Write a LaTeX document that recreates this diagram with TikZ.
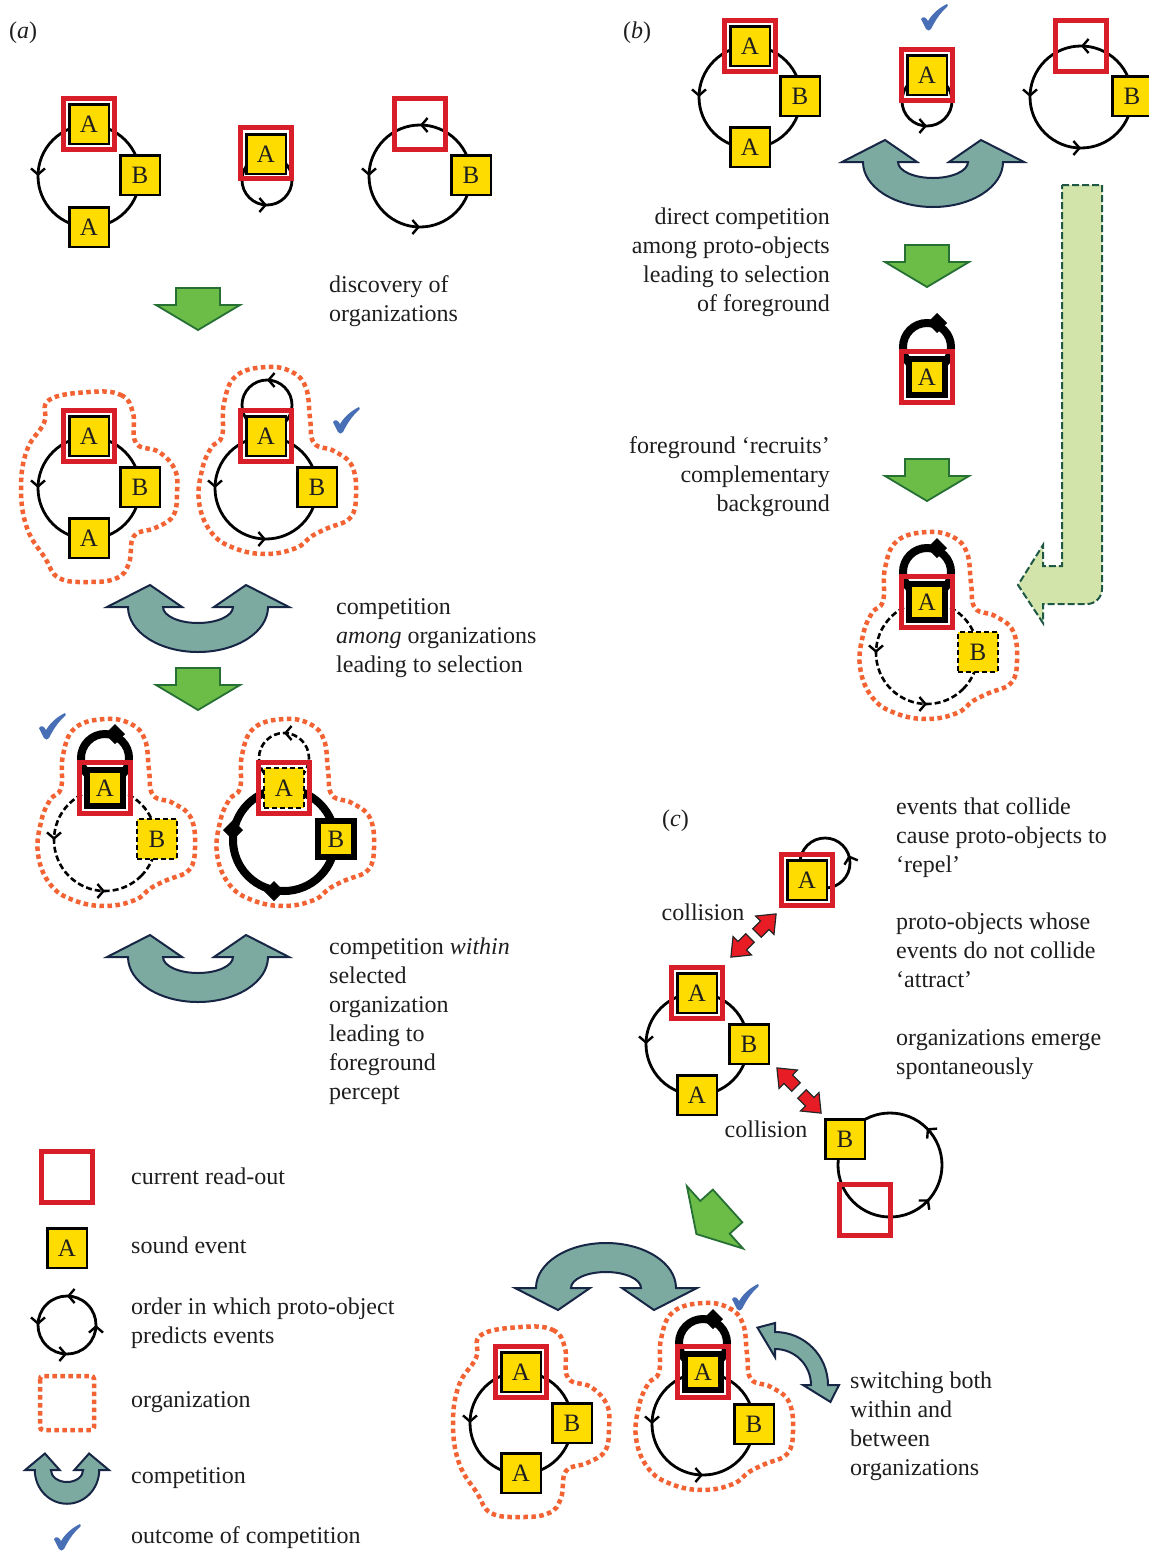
\documentclass[tikz,border=0pt]{standalone}
\usepackage{fontspec}
\setmainfont{Liberation Serif}
\usetikzlibrary{arrows.meta,decorations.markings}
\definecolor{evy}{RGB}{255,220,0}
\definecolor{rored}{RGB}{216,30,40}
\definecolor{orgor}{RGB}{243,98,50}
\definecolor{cfill}{RGB}{124,170,160}
\definecolor{cline}{RGB}{24,38,70}
\definecolor{gfill}{RGB}{108,188,72}
\definecolor{gline}{RGB}{38,112,52}
\definecolor{lgfill}{RGB}{210,228,170}
\definecolor{lgline}{RGB}{30,88,68}
\definecolor{chk}{RGB}{72,110,182}
\definecolor{rarr}{RGB}{232,28,36}
\definecolor{txt}{RGB}{30,30,30}
\tikzset{
  ev/.style={rectangle, draw=black, fill=evy, line width=2.5pt, minimum size=39.5pt, inner sep=0pt, font=\fontsize{25}{25}\selectfont, text=txt},
  evd/.style={ev, line width=2.4pt, dash pattern=on 5pt off 3pt},
  evk/.style={ev, line width=6pt, minimum size=36pt},
  ro/.style={rectangle, draw=rored, line width=5pt, minimum size=51.5pt, inner sep=0pt},
  orgl/.style={draw=orgor, line width=4.5pt, dash pattern=on 4.5pt off 3.5pt},
  circ/.style={draw=black, line width=2.8pt},
  dcirc/.style={draw=black, line width=2.6pt, dash pattern=on 6pt off 3pt},
  kcirc/.style={draw=black, line width=8pt},
  mk/.style={postaction={decorate,decoration={markings,mark=at position #1 with {\arrow[line width=2.4pt]{Straight Barb[length=6pt,width=14pt]}}}}},
  kmk/.style={postaction={decorate,decoration={markings,mark=at position #1 with {\arrow[line width=1pt]{Kite[length=20pt,width=20pt,inset=10pt]}}}}},
  lbl/.style={font=\fontsize{24}{29}\selectfont, text=txt, inner sep=0pt},
  garr/.pic={\draw[fill=gfill, draw=gline, line width=1.8pt, line join=miter] (-22,-21) -- (22,-21) -- (22,-4) -- (42,-4) -- (0,21) -- (-42,-4) -- (-22,-4) -- cycle;},
  comp/.pic={\draw[fill=cfill, draw=cline, line width=2pt, line join=miter] (-91,0) -- (-48,-22) -- (-16,0) -- (-35,0) arc[start angle=180, end angle=0, x radius=35, y radius=16] -- (16,0) -- (48,-22) -- (91,0) -- (70,0) arc[start angle=0, end angle=180, x radius=70, y radius=45] -- cycle;},
  chkm/.pic={\fill[chk] (-13,1) .. controls (-11,-2) and (-8,-1) .. (-6,3) .. controls (-1,-5) and (5,-10) .. (13,-14) .. controls (14,-13) and (14,-12) .. (13,-11) .. controls (6,-5) and (1,3) .. (-3,11) .. controls (-4,13) and (-7,13) .. (-8,11) -- cycle;},
  rarw/.pic={\draw[fill=rarr, draw=black!85, line width=1.2pt, line join=miter] (0,-6) -- (11,-6) -- (11,-13) -- (27,0) -- (11,13) -- (11,6) -- (0,6) -- cycle;}
}
\newcommand{\pcirc}[4]{\path[#4] (#1,#2) ++(45:#3) arc[start angle=45, end angle=-315, radius=#3];}
\newcommand{\orgABA}[2]{\begin{scope}[shift={(#1,#2)}]\draw[orgl] plot[smooth cycle, tension=0.7] coordinates {(0,-96) (32,-93) (44,-75) (47,-45) (70,-36) (86,-18) (88,5) (84,28) (66,40) (45,48) (40,75) (28,90) (0,94) (-30,90) (-44,70) (-62,40) (-68,0) (-62,-38) (-45,-65) (-40,-88)};\end{scope}}
\newcommand{\orgLAB}[2]{\begin{scope}[shift={(#1,#2)}]\draw[orgl] plot[smooth cycle, tension=0.7] coordinates {(0,-121) (26,-116) (40,-100) (44,-70) (48,-45) (68,-37) (86,-22) (90,8) (84,30) (62,40) (46,48) (30,60) (0,66) (-32,60) (-55,44) (-67,14) (-64,-18) (-55,-40) (-44,-52) (-42,-85) (-30,-112)};\end{scope}}
\begin{document}
\begin{tikzpicture}[x=1pt, y=-1pt]
\fill[white] (0,0) rectangle (1149,1551);
\useasboundingbox (0,0) rectangle (1149,1551);

% ================= (a) =================
\node[lbl, anchor=base west] (la) at (9,38) {(\textit{a})};
% row 1
\pcirc{89}{176}{51}{circ, mk=0.625}
\node[ro] (a1r) at (89,124) {};
\node[ev] (a1A) at (89,124) {A};
\node[ev] (a1B) at (140,175) {B};
\node[ev] (a1C) at (89,227) {A};
\pcirc{267}{180}{25}{circ, mk=0.875}
\node[ro] (a2r) at (266,153) {};
\node[ev] (a2A) at (266,154) {A};
\pcirc{420}{176}{51}{circ, mk=0.375, mk=0.625, mk=0.875}
\node[ro] (a3r) at (420,124) {};
\node[ev] (a3B) at (471,175) {B};
\pic (ga1) at (198,309) {garr};
\node[lbl, anchor=base west, align=left] (ta1) at (329,321) {discovery of\\organizations};
% row 2
\orgABA{89}{488}
\pcirc{89}{488}{51}{circ, mk=0.625}
\node[ro] (a4r) at (89,436) {};
\node[ev] (a4A) at (89,436) {A};
\node[ev] (a4B) at (140,487) {B};
\node[ev] (a4C) at (89,538) {A};
\orgLAB{266}{488}
\pcirc{266}{488}{51}{circ, mk=0.625, mk=0.875}
\pcirc{267}{405}{25}{circ, mk=0.375}
\node[ro] (a5r) at (266,436) {};
\node[ev] (a5A) at (266,436) {A};
\node[ev] (a5B) at (317,487) {B};
\pic (ck1) at (346,421) {chkm};
\pic (ca1) at (198,607) {comp};
\node[lbl, anchor=base west, align=left] (ta2) at (336,672) {competition\\\textit{among} organizations\\leading to selection};
\pic (ga2) at (198,689) {garr};
% row 3
\orgLAB{105}{840}
\pcirc{105}{840}{51}{dcirc, mk=0.625, mk=0.875}
\pcirc{105}{758}{24}{kcirc, kmk=0.375}
\node[ro] (a6r) at (105,788) {};
\node[evk] (a6A) at (105,788) {A};
\node[evd] (a6B) at (157,839) {B};
\pic (ck2) at (52,727) {chkm};
\orgLAB{284}{840}
\pcirc{284}{840}{51}{kcirc, kmk=0.625, kmk=0.875}
\pcirc{284}{758}{25}{dcirc, mk=0.375}
\node[ro] (a7r) at (284,788) {};
\node[evd] (a7A) at (284,788) {A};
\node[evk] (a7B) at (336,839) {B};
\pic (ca2) at (198,957) {comp};
\node[lbl, anchor=base west, align=left] (ta3) at (329,1099) {competition \textit{within}\\selected\\organization\\leading to\\foreground\\percept};

% legend
\node[ro] (L1) at (67,1177) {};
\node[ev] (L2) at (67,1248) {A};
\pcirc{67}{1325}{29}{circ, mk=0.125, mk=0.375, mk=0.625, mk=0.875}
\draw[orgl, rounded corners=3pt] (40,1376) rectangle (94,1430);
\pic[xscale=0.46, yscale=0.75] (L5) at (67,1470) {comp};
\pic (L6) at (67,1538) {chkm};
\node[lbl, anchor=base west] (tl1) at (131,1184) {current read-out};
\node[lbl, anchor=base west] (tl2) at (131,1253) {sound event};
\node[lbl, anchor=base west, align=left] (tl3) at (131,1343) {order in which proto-object\\predicts events};
\node[lbl, anchor=base west] (tl4) at (131,1407) {organization};
\node[lbl, anchor=base west] (tl5) at (131,1483) {competition};
\node[lbl, anchor=base west] (tl6) at (131,1543) {outcome of competition};

% ================= (b) =================
\node[lbl, anchor=base west] (lb) at (623,38) {(\textit{b})};
\pcirc{750}{97}{51}{circ, mk=0.625}
\node[ro] (b1r) at (750,46) {};
\node[ev] (b1A) at (750,46) {A};
\node[ev] (b1B) at (800,96) {B};
\node[ev] (b1C) at (750,147) {A};
\pcirc{927}{101}{25}{circ, mk=0.875}
\node[ro] (b2r) at (927,75) {};
\node[ev] (b2A) at (927,75) {A};
\pic (ck3) at (934,18) {chkm};
\pcirc{1081}{97}{51}{circ, mk=0.375, mk=0.625, mk=0.875}
\node[ro] (b3r) at (1081,46) {};
\node[ev] (b3B) at (1132,96) {B};
\pic (cb1) at (933,162) {comp};
\node[lbl, anchor=base east, align=right] (tb1) at (830,311) {direct competition\\among proto-objects\\leading to selection\\of foreground};
\pic (gb1) at (927,266) {garr};
\pcirc{927}{347}{24}{kcirc, kmk=0.375}
\node[ro] (b4r) at (927,377) {};
\node[evk] (b4A) at (927,377) {A};
\node[lbl, anchor=base east, align=right] (tb2) at (830,511) {foreground ‘recruits’\\complementary\\background};
\pic (gb2) at (927,480) {garr};
\orgLAB{927}{653}
\pcirc{927}{653}{51}{dcirc, mk=0.625, mk=0.875}
\pcirc{927}{572}{24}{kcirc, kmk=0.375}
\node[ro] (b5r) at (927,602) {};
\node[evk] (b5A) at (927,602) {A};
\node[evd] (b5B) at (978,652) {B};
\draw[fill=lgfill, draw=lgline, line width=2pt, dash pattern=on 7pt off 3pt, line join=miter] (1062,185) -- (1102,185) -- (1102,589) arc[start angle=0, end angle=90, radius=15] -- (1043,604) -- (1043,623) -- (1018,585) -- (1043,545) -- (1043,566) -- (1062,566) -- cycle;

% ================= (c) =================
\node[lbl, anchor=base west] (lc) at (662,826) {(\textit{c})};
\node[lbl, anchor=base west, align=left] (tc1) at (896,872) {events that collide\\cause proto-objects to\\‘repel’};
\node[lbl, anchor=base west, align=left] (tc2) at (896,987) {proto-objects whose\\events do not collide\\‘attract’};
\node[lbl, anchor=base west, align=left] (tc3) at (896,1074) {organizations emerge\\spontaneously};
\pcirc{825}{863}{25}{circ, mk=0.175}
\node[ro] (c1r) at (807,880) {};
\node[ev] (c1A) at (807,880) {A};
\node[lbl, anchor=base] (tcol1) at (703,920) {collision};
\pic[rotate=45] (r1) at (757,933) {rarw};
\pic[rotate=225] (r2) at (750,938) {rarw};
\pcirc{697}{1044}{51}{circ, mk=0.625}
\node[ro] (c2r) at (697,993) {};
\node[ev] (c2A) at (697,993) {A};
\node[ev] (c2B) at (749,1044) {B};
\node[ev] (c2C) at (697,1095) {A};
\pic[rotate=135] (r3) at (796,1087) {rarw};
\pic[rotate=-45] (r4) at (802,1094) {rarw};
\node[lbl, anchor=base] (tcol2) at (766,1137) {collision};
\pcirc{890}{1165}{52}{circ, mk=0.25, mk=0.01}
\node[ev] (c3B) at (845,1139) {B};
\node[ro] (c3r) at (865,1210) {};
\pic[rotate=-48] (gc1) at (712,1220) {garr};
\pic[yscale=-1] (cc1) at (606,1288) {comp};
% bottom left org
\orgABA{521}{1423}
\pcirc{521}{1423}{51}{circ, mk=0.625}
\node[ro] (c4r) at (521,1372) {};
\node[ev] (c4A) at (521,1372) {A};
\node[ev] (c4B) at (572,1423) {B};
\node[ev] (c4C) at (521,1473) {A};
% bottom right org
\orgLAB{703}{1424}
\pcirc{703}{1424}{51}{circ, mk=0.625, mk=0.875}
\pcirc{703}{1343}{24}{kcirc, kmk=0.375}
\node[ro] (c5r) at (703,1372) {};
\node[evk] (c5A) at (703,1372) {A};
\node[ev] (c5B) at (754,1424) {B};
\pic (ck4) at (745,1298) {chkm};
\begin{scope}[shift={(775,1385)}]
\draw[fill=cfill, draw=cline, line width=2pt, line join=miter] (-90:36) arc[start angle=-90, end angle=0, radius=36] -- (0:28) -- (17:58) -- (0:64) -- (0:53) arc[start angle=0, end angle=-90, radius=53] -- (-90:62) -- (-107:60) -- (-90:28) -- cycle;
\end{scope}
\node[lbl, anchor=base west, align=left] (tc4) at (850,1475) {switching both\\within and\\between\\organizations};
\end{tikzpicture}
\end{document}
